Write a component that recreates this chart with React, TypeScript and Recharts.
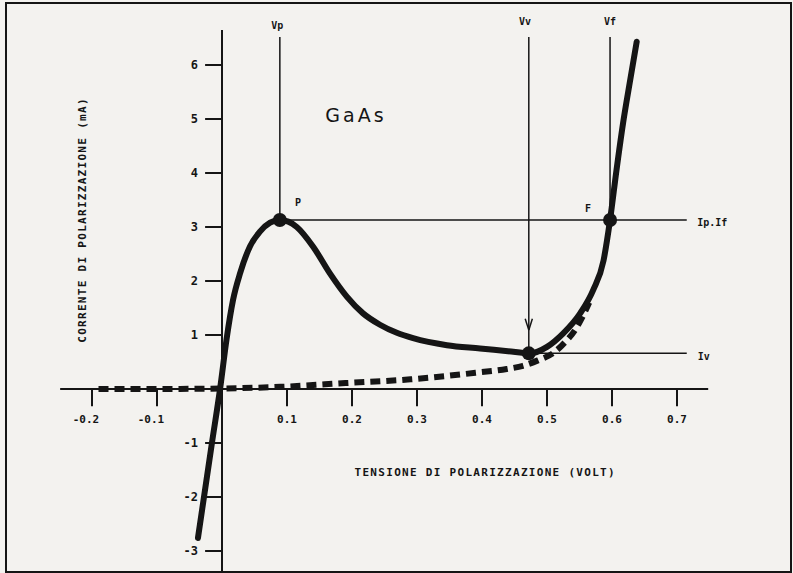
import React from "react";
import { ComposedChart, Line, XAxis, YAxis, ReferenceLine, ReferenceDot } from "recharts";

// Tunnel diode (GaAs) characteristic: V in volts, I in mA
const tunnelCurve = [
  { v: -0.037, i: -2.76 }, { v: -0.0155, i: -1.0 }, { v: -0.003, i: 0 }, { v: 0.007, i: 0.92 },
  { v: 0.017, i: 1.65 }, { v: 0.028, i: 2.15 }, { v: 0.043, i: 2.64 }, { v: 0.058, i: 2.91 },
  { v: 0.074, i: 3.08 }, { v: 0.089, i: 3.13 }, { v: 0.102, i: 3.1 }, { v: 0.115, i: 3.0 },
  { v: 0.1405, i: 2.63 }, { v: 0.166, i: 2.14 }, { v: 0.192, i: 1.71 }, { v: 0.217, i: 1.4 },
  { v: 0.243, i: 1.19 }, { v: 0.269, i: 1.04 }, { v: 0.294, i: 0.94 }, { v: 0.346, i: 0.81 },
  { v: 0.397, i: 0.75 }, { v: 0.44, i: 0.7 }, { v: 0.474, i: 0.66 }, { v: 0.5, i: 0.78 },
  { v: 0.525, i: 1.03 }, { v: 0.551, i: 1.4 }, { v: 0.571, i: 1.83 }, { v: 0.587, i: 2.38 },
  { v: 0.597, i: 3.13 }, { v: 0.607, i: 4.06 }, { v: 0.617, i: 4.92 }, { v: 0.628, i: 5.72 },
  { v: 0.638, i: 6.43 },
];

// Ordinary diode (thermal) current, dashed
const diodeCurve = [
  { v: -0.19, i: 0 }, { v: -0.1, i: 0 }, { v: 0, i: 0.01 }, { v: 0.09, i: 0.04 },
  { v: 0.19, i: 0.11 }, { v: 0.29, i: 0.18 }, { v: 0.39, i: 0.3 }, { v: 0.438, i: 0.37 },
  { v: 0.463, i: 0.43 }, { v: 0.486, i: 0.53 }, { v: 0.51, i: 0.67 }, { v: 0.528, i: 0.87 },
  { v: 0.543, i: 1.09 }, { v: 0.556, i: 1.37 }, { v: 0.565, i: 1.6 },
];

const xTicks = [-0.2, -0.1, 0.1, 0.2, 0.3, 0.4, 0.5, 0.6, 0.7];
const xTickLabels = ["-0.2", "-0.1", "0.1", "0.2", "0.3", "0.4", "0.5", "0.6", "0.7"];
const yTicks = [-3, -2, -1, 1, 2, 3, 4, 5, 6];
const yTickLabels = ["-3", "-2", "-1", "1", "2", "3", "4", "5", "6"];

// Key points
const peak = { v: 0.089, i: 3.13 };
const valley = { v: 0.472, i: 0.66 };
const forward = { v: 0.597, i: 3.13 };

const X_DOMAIN = [-0.25, 0.85];
const Y_DOMAIN = [-3.4, 6.9];
const X_AXIS_RANGE = [-0.249, 0.748];
const Y_AXIS_TOP = 6.65;
const GUIDE_TOP = 6.52;
const GUIDE_RIGHT = 0.715;

const INK = "#151515";
const PLOT_FONT = "'DejaVu Sans Mono', monospace";

type TxtProps = {
  text: string;
  size?: number;
  anchor?: "start" | "middle" | "end";
  rotate?: boolean;
  spacing?: number;
  bold?: boolean;
  family?: string;
  dx?: number;
};

const makeText = (o: TxtProps) => (p: any) => {
  const x = (p.cx ?? 0) + (o.dx ?? 0);
  const y = p.cy ?? 0;
  return (
    <text
      x={x}
      y={y}
      textAnchor={o.anchor ?? "middle"}
      dominantBaseline="central"
      fontFamily={o.family ?? PLOT_FONT}
      fontWeight={o.bold === false ? 400 : 700}
      fontSize={o.size ?? 10}
      letterSpacing={o.spacing ?? 0}
      fill={INK}
      transform={o.rotate ? `rotate(-90, ${x}, ${y})` : undefined}
    >
      {o.text}
    </text>
  );
};

const TextAt = (x: number, y: number, key: string, o: TxtProps) => (
  <ReferenceDot key={key} x={x} y={y} r={0} ifOverflow="visible" shape={makeText(o)} />
);

export default function App() {
  return (
    <div style={{ position: "absolute", left: 0, top: 0, width: 793, height: 573, background: "#f3f2ef", overflow: "hidden" }}>
      <div style={{ position: "absolute", left: 5, top: 2, width: 783, height: 567, border: `2px solid ${INK}` }} />
      <div style={{ position: "absolute", left: 0, top: 0 }}>
        <ComposedChart width={793} height={573} margin={{ top: 16.4, right: 18.5, bottom: 0.4, left: 59.5 }}>
          <XAxis type="number" dataKey="v" domain={X_DOMAIN} hide allowDataOverflow />
          <YAxis type="number" dataKey="i" domain={Y_DOMAIN} hide allowDataOverflow />

          {/* axes */}
          <ReferenceLine segment={[{ x: X_AXIS_RANGE[0], y: 0 }, { x: X_AXIS_RANGE[1], y: 0 }]} stroke={INK} strokeWidth={2} ifOverflow="visible" />
          <ReferenceLine segment={[{ x: 0, y: Y_AXIS_TOP }, { x: 0, y: Y_DOMAIN[0] }]} stroke={INK} strokeWidth={2} ifOverflow="visible" />
          {xTicks.map((t) => (
            <ReferenceLine key={"xt" + t} segment={[{ x: t, y: 0 }, { x: t, y: -0.32 }]} stroke={INK} strokeWidth={2} ifOverflow="visible" />
          ))}
          {yTicks.map((t) => (
            <ReferenceLine key={"yt" + t} segment={[{ x: -0.026, y: t }, { x: 0, y: t }]} stroke={INK} strokeWidth={2} ifOverflow="visible" />
          ))}

          {/* guide lines */}
          <ReferenceLine segment={[{ x: peak.v, y: GUIDE_TOP }, { x: peak.v, y: peak.i }]} stroke={INK} strokeWidth={1.5} ifOverflow="visible" />
          <ReferenceLine segment={[{ x: valley.v, y: GUIDE_TOP }, { x: valley.v, y: valley.i }]} stroke={INK} strokeWidth={1.5} ifOverflow="visible" />
          <ReferenceLine segment={[{ x: forward.v, y: GUIDE_TOP }, { x: forward.v, y: forward.i }]} stroke={INK} strokeWidth={1.5} ifOverflow="visible" />
          <ReferenceLine segment={[{ x: peak.v, y: peak.i }, { x: GUIDE_RIGHT, y: peak.i }]} stroke={INK} strokeWidth={1.5} ifOverflow="visible" />
          <ReferenceLine segment={[{ x: valley.v, y: valley.i }, { x: GUIDE_RIGHT, y: valley.i }]} stroke={INK} strokeWidth={1.5} ifOverflow="visible" />
          {/* arrow head on Vv */}
          <ReferenceLine segment={[{ x: valley.v - 0.0055, y: 1.3 }, { x: valley.v, y: 1.09 }]} stroke={INK} strokeWidth={1.5} ifOverflow="visible" />
          <ReferenceLine segment={[{ x: valley.v + 0.0055, y: 1.3 }, { x: valley.v, y: 1.09 }]} stroke={INK} strokeWidth={1.5} ifOverflow="visible" />

          {/* curves */}
          <Line data={diodeCurve} dataKey="i" type="monotone" stroke={INK} strokeWidth={6} strokeDasharray="10 6" dot={false} activeDot={false} isAnimationActive={false} />
          <Line data={tunnelCurve} dataKey="i" type="monotone" stroke={INK} strokeWidth={6} strokeLinecap="round" dot={false} activeDot={false} isAnimationActive={false} />

          {/* key points */}
          <ReferenceDot x={peak.v} y={peak.i} r={7} fill={INK} stroke="none" ifOverflow="visible" />
          <ReferenceDot x={valley.v} y={valley.i} r={7} fill={INK} stroke="none" ifOverflow="visible" />
          <ReferenceDot x={forward.v} y={forward.i} r={7} fill={INK} stroke="none" ifOverflow="visible" />

          {/* tick labels */}
          {xTicks.map((t, k) => TextAt(t, -0.57, "xl" + t, { text: xTickLabels[k], size: 11, dx: t < 0 ? -6 : 0 }))}
          {yTicks.map((t, k) => TextAt(-0.037, t, "yl" + t, { text: yTickLabels[k], size: 12, anchor: "end" }))}

          {/* titles and annotations */}
          {TextAt(0.405, -1.54, "xtitle", { text: "TENSIONE DI POLARIZZAZIONE (VOLT)", size: 11, spacing: 1.3 })}
          {TextAt(-0.214, 3.13, "ytitle", { text: "CORRENTE DI POLARIZZAZIONE (mA)", size: 11, spacing: 1.3, rotate: true })}
          {TextAt(0.085, 6.74, "vp", { text: "Vp", size: 10 })}
          {TextAt(0.466, 6.8, "vv", { text: "Vv", size: 10 })}
          {TextAt(0.597, 6.8, "vf", { text: "Vf", size: 10 })}
          {TextAt(0.117, 3.46, "pl", { text: "P", size: 10 })}
          {TextAt(0.563, 3.35, "fl", { text: "F", size: 10 })}
          {TextAt(0.731, 3.09, "ipif", { text: "Ip.If", size: 10, anchor: "start" })}
          {TextAt(0.732, 0.61, "iv", { text: "Iv", size: 10, anchor: "start" })}
          {TextAt(0.206, 5.07, "gaas", { text: "GaAs", size: 19, spacing: 3, bold: false, family: "'DejaVu Sans', sans-serif" })}
        </ComposedChart>
      </div>
    </div>
  );
}
